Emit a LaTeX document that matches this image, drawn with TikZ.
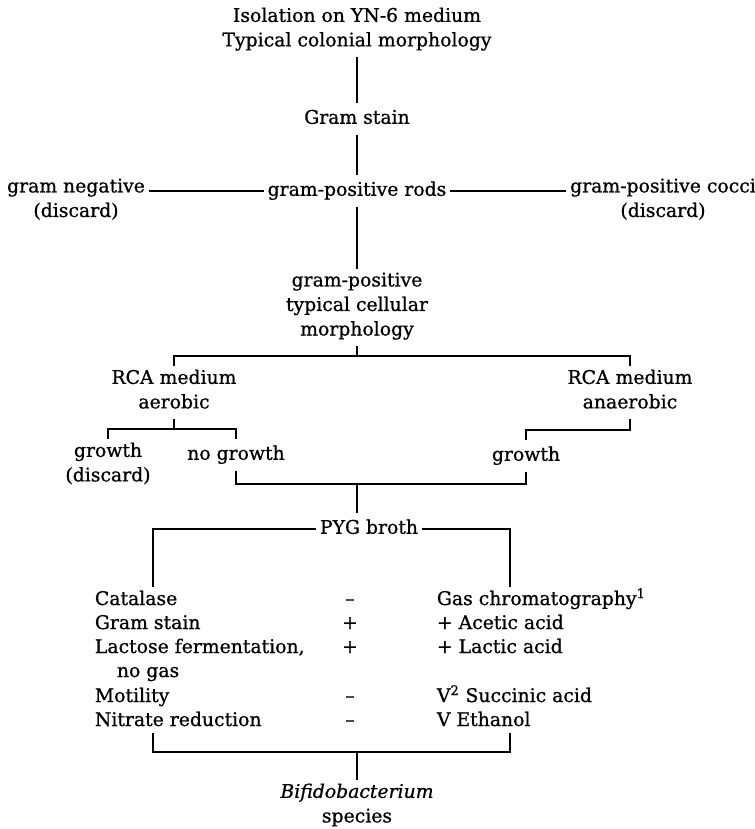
\documentclass[tikz,border=0pt]{standalone}
\usepackage{fontspec}
\setmainfont{DejaVu Serif}[FakeBold=0.8]
\usepackage{tikz}
\newcommand{\flowfont}{\fontsize{14.1}{18.4}\selectfont}

\begin{document}
\begin{tikzpicture}[x=0.75pt,y=0.75pt,yscale=-1,xscale=1,
  line width=1.4pt,
  lbl/.style={font=\flowfont, align=center, execute at begin node=\strut,
    execute at end node=\strut, inner xsep=2.25pt, inner ysep=2pt, anchor=north},
  cell/.style={font=\flowfont, inner sep=0pt, anchor=base west},
  sign/.style={font=\flowfont, inner sep=0pt, anchor=base}]
\useasboundingbox (0,0) rectangle (755,829);

% Text Node
\node [lbl] (iso) at (357,4) {Isolation on YN-6 medium\\Typical colonial morphology};
% Text Node
\node [lbl] (gram) at (357,103) {Gram stain};
% Text Node
\node [lbl] (rods) at (357,175) {gram-positive rods};
% Text Node
\node [lbl] (gneg) at (76,175) {gram negative\\(discard)};
% Text Node
\node [lbl] (cocci) at (663,175) {gram-positive cocci\\(discard)};
% Text Node
\node [lbl] (gpos) at (357,269) {gram-positive\\typical cellular\\morphology};
% Text Node
\node [lbl] (aer) at (174,366) {RCA medium\\aerobic};
% Text Node
\node [lbl] (ana) at (630,366) {RCA medium\\anaerobic};
% Text Node
\node [lbl] (grL) at (108,439) {growth\\(discard)};
% Text Node
\node [lbl] (noGr) at (236,439) {no growth};
% Text Node
\node [lbl] (grR) at (526,440) {growth};
% Text Node
\node [lbl] (pyg) at (369,513) {PYG broth};
% Text Node
\node [lbl] (bif) at (357,780) {\textit{Bifidobacterium}\\species};

% Table of tests
\node [cell] (catT) at (94,605) {Catalase};
\node [cell] (gsT) at (94,629) {Gram stain};
\node [cell] (lacT) at (94,653) {Lactose fermentation,};
\node [cell] (gasT) at (116,677) {no gas};
\node [cell] (motT) at (94,702) {Motility};
\node [cell] (nitT) at (94,726) {Nitrate reduction};
\node [sign] (catS) at (350,605) {–};
\node [sign] (gsS) at (350,629) {+};
\node [sign] (lacS) at (350,653) {+};
\node [sign] (motS) at (350,702) {–};
\node [sign] (nitS) at (350,726) {–};
\node [cell] (gcR) at (436,605) {Gas chromatography\textsuperscript{1}};
\node [cell] (aceR) at (436,629) {+ Acetic acid};
\node [cell] (lacR) at (436,653) {+ Lactic acid};
\node [cell] (sucR) at (436,702) {V\textsuperscript{2} Succinic acid};
\node [cell] (ethR) at (436,726) {V Ethanol};

% Bracket corners
\coordinate (gpFork) at (357,356);
\coordinate (aerFork) at (174,429);
\coordinate (anaFork) at (630,430);
\coordinate (mid) at (357,484);
\coordinate (pygL) at (153,587);
\coordinate (pygR) at (510,587);
\coordinate (botL) at (153,733);
\coordinate (botR) at (510,733);
\coordinate (botM) at (357,752);

%Straight Lines
\draw (iso) -- (gram);
\draw (gram) -- (rods);
\draw (rods) -- (gpos);
\draw (rods.west) -- (rods.west -| gneg.east);
\draw (rods.east) -- (rods.east -| cocci.west);
%Straight Lines
\draw (gpos) -- (gpFork);
\draw (aer.north) |- (gpFork) -| (ana.north);
\draw (aer) -- (aerFork);
\draw (grL.north) |- (aerFork) -| (noGr.north);
\draw (ana) -- (anaFork) -| (grR.north);
\draw (noGr.south) |- (mid) -| (grR.south);
\draw (mid) -- (mid |- pyg.north);
%Straight Lines
\draw (pyg.west) -| (pygL);
\draw (pyg.east) -| (pygR);
\draw (botL) |- (botM) -| (botR);
\draw (botM) -- (bif);

\end{tikzpicture}
\end{document}
